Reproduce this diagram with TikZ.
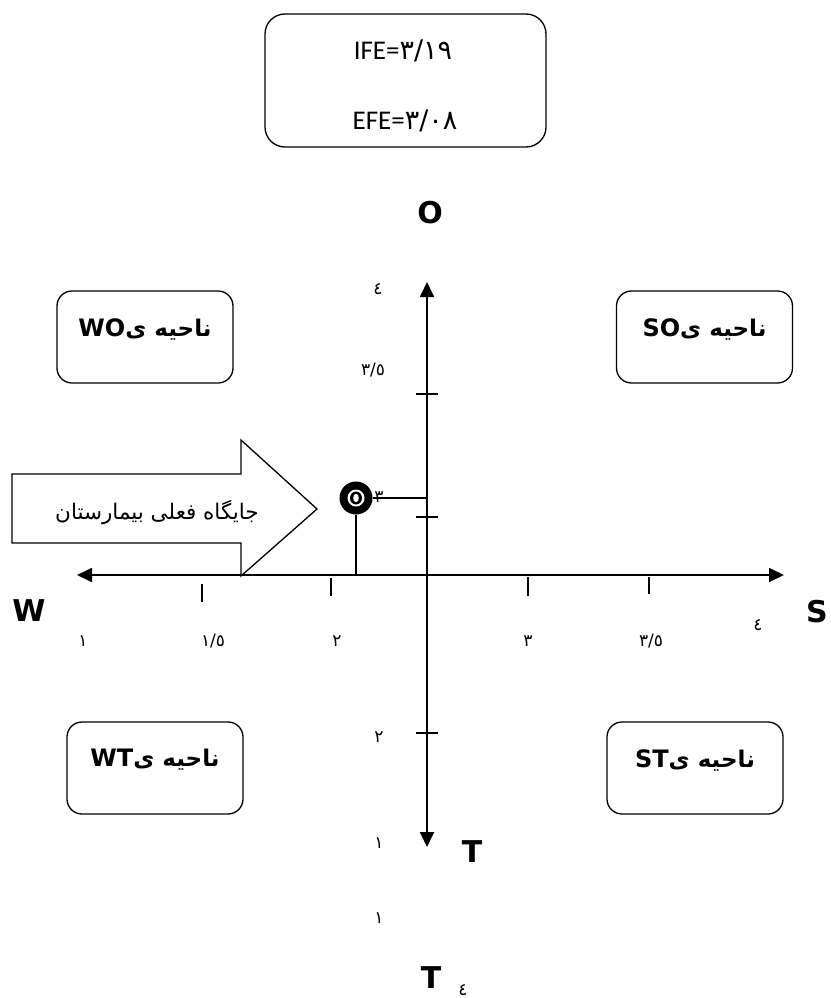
\documentclass[tikz,border=0pt]{standalone}
\usepackage{fontspec}
\setmainfont{Carlito}
\newfontfamily\arabicfont[Script=Arabic]{DejaVu Sans}
\newfontfamily\dejavu{DejaVu Sans}
\TeXXeTstate=1
\usetikzlibrary{arrows.meta}

\begin{document}
\begin{tikzpicture}[x=1pt,y=-1pt,
  axisline/.style={line width=1.8pt,{Triangle[length=15pt,width=14pt]}-{Triangle[length=15pt,width=14pt]}},
  tickmark/.style={line width=1.3pt},
  zone/.style={draw,line width=1.3pt,rounded corners=15pt,minimum width=176pt,minimum height=92pt,inner sep=0pt},
  zonetext/.style={inner sep=0pt,font=\fontsize{23}{27}\selectfont\bfseries\arabicfont},
  num/.style={inner sep=0pt,font=\fontsize{17}{19}\selectfont\dejavu},
  letter/.style={inner sep=0pt,font=\fontsize{30}{34}\selectfont\bfseries\dejavu},
  guide/.style={line width=1.3pt},
]
\newcommand\zonelabel[1]{\beginR ناحیه ی\beginL{\fontsize{24}{28}\selectfont\dejavu\bfseries #1}\endL\endR}
\useasboundingbox (0,0) rectangle (830,998);

% summary box with the two scores
\node[draw,line width=1.3pt,rounded corners=20pt,minimum width=281pt,minimum height=133pt] (score) at (405.5,80.5) {};
\node[inner sep=0pt,font=\fontsize{27}{30}\selectfont] (ife) at (403,51) {IFE={\dejavu ٣/١٩}};
\node[inner sep=0pt,font=\fontsize{27}{30}\selectfont] (efe) at (405,121) {EFE={\dejavu ٣/٠٨}};

% axes
\coordinate (vt) at (427,282);
\coordinate (vb) at (427,847);
\coordinate (hl) at (77,575);
\coordinate (hr) at (784,575);
\coordinate (o) at (427,575);
\draw[axisline] (vt) -- (vb);
\draw[axisline] (hl) -- (hr);

% tick marks
\foreach \yy in {394,517,733}
  \draw[tickmark] (416,\yy) -- (438,\yy);
\draw[tickmark] (202,584) -- (202,602);
\draw[tickmark] (331,578) -- (331,596);
\draw[tickmark] (528,577) -- (528,596);
\draw[tickmark] (649,577) -- (649,594);

% axis numbers
\node[num] (n4v)  at (378,289) {٤};
\node[num] (n35v) at (373,370) {٣/٥};
\node[num] (n2v)  at (379,737) {٢};
\node[num] (n1v)  at (379,843) {١};
\node[num] (n1w)  at (379,918) {١};
\node[num] (n1h)  at (83,641)  {١};
\node[num] (n15h) at (213,641) {١/٥};
\node[num] (n2h)  at (337,641) {٢};
\node[num] (n3h)  at (528,641) {٣};
\node[num] (n35h) at (651,641) {٣/٥};
\node[num] (n4h)  at (758,625) {٤};
\node[num] (n4t)  at (463,990) {٤};

% axis letters
\node[letter] (lo) at (430,213) {O};
\node[letter] (lw) at (29,611)  {W};
\node[letter] (ls) at (817,612) {S};
\node[letter] (lt) at (472,852) {T};
\node[letter] (lt2) at (431,978) {T};

% quadrant boxes
\node[zone] (wo) at (145,337)   {};
\node[zone] (so) at (704.5,337) {};
\node[zone] (wt) at (155,768)   {};
\node[zone] (st) at (695,768)   {};
\node[zonetext] (wo-t) at ([yshift=8pt]wo.center) {\zonelabel{WO}};
\node[zonetext] (so-t) at ([yshift=8pt]so.center) {\zonelabel{SO}};
\node[zonetext] (wt-t) at ([yshift=8pt]wt.center) {\zonelabel{WT}};
\node[zonetext] (st-t) at ([yshift=8pt]st.center) {\zonelabel{ST}};

% current position marker
\node[circle,fill=black,minimum size=33pt,inner sep=0pt] (mk) at (356,498) {};
\fill[white] (mk.center) circle[radius=8.5pt];
\fill[black] (mk.center) ellipse[x radius=6pt,y radius=6.5pt];
\fill[white] (mk.center) ellipse[x radius=2.8pt,y radius=4.2pt];
\node[num] (n3m) at (379,497) {٣};
\coordinate (my) at (427,498);
\coordinate (mx) at (356,575);
\draw[guide] (mk.east) -- (my);
\draw[guide] (mk.south) -- (mx);

% block arrow pointing at the marker
\draw[line width=1.3pt,line join=miter] (12,474) -- (241,474) -- (241,440) -- (317,509) -- (241,576) -- (241,543) -- (12,543) -- cycle;
\node[inner sep=0pt,font=\fontsize{21.5}{25}\selectfont\arabicfont] (pos) at (157,512) {\beginR جایگاه فعلی بیمارستان\endR};
\end{tikzpicture}
\end{document}
